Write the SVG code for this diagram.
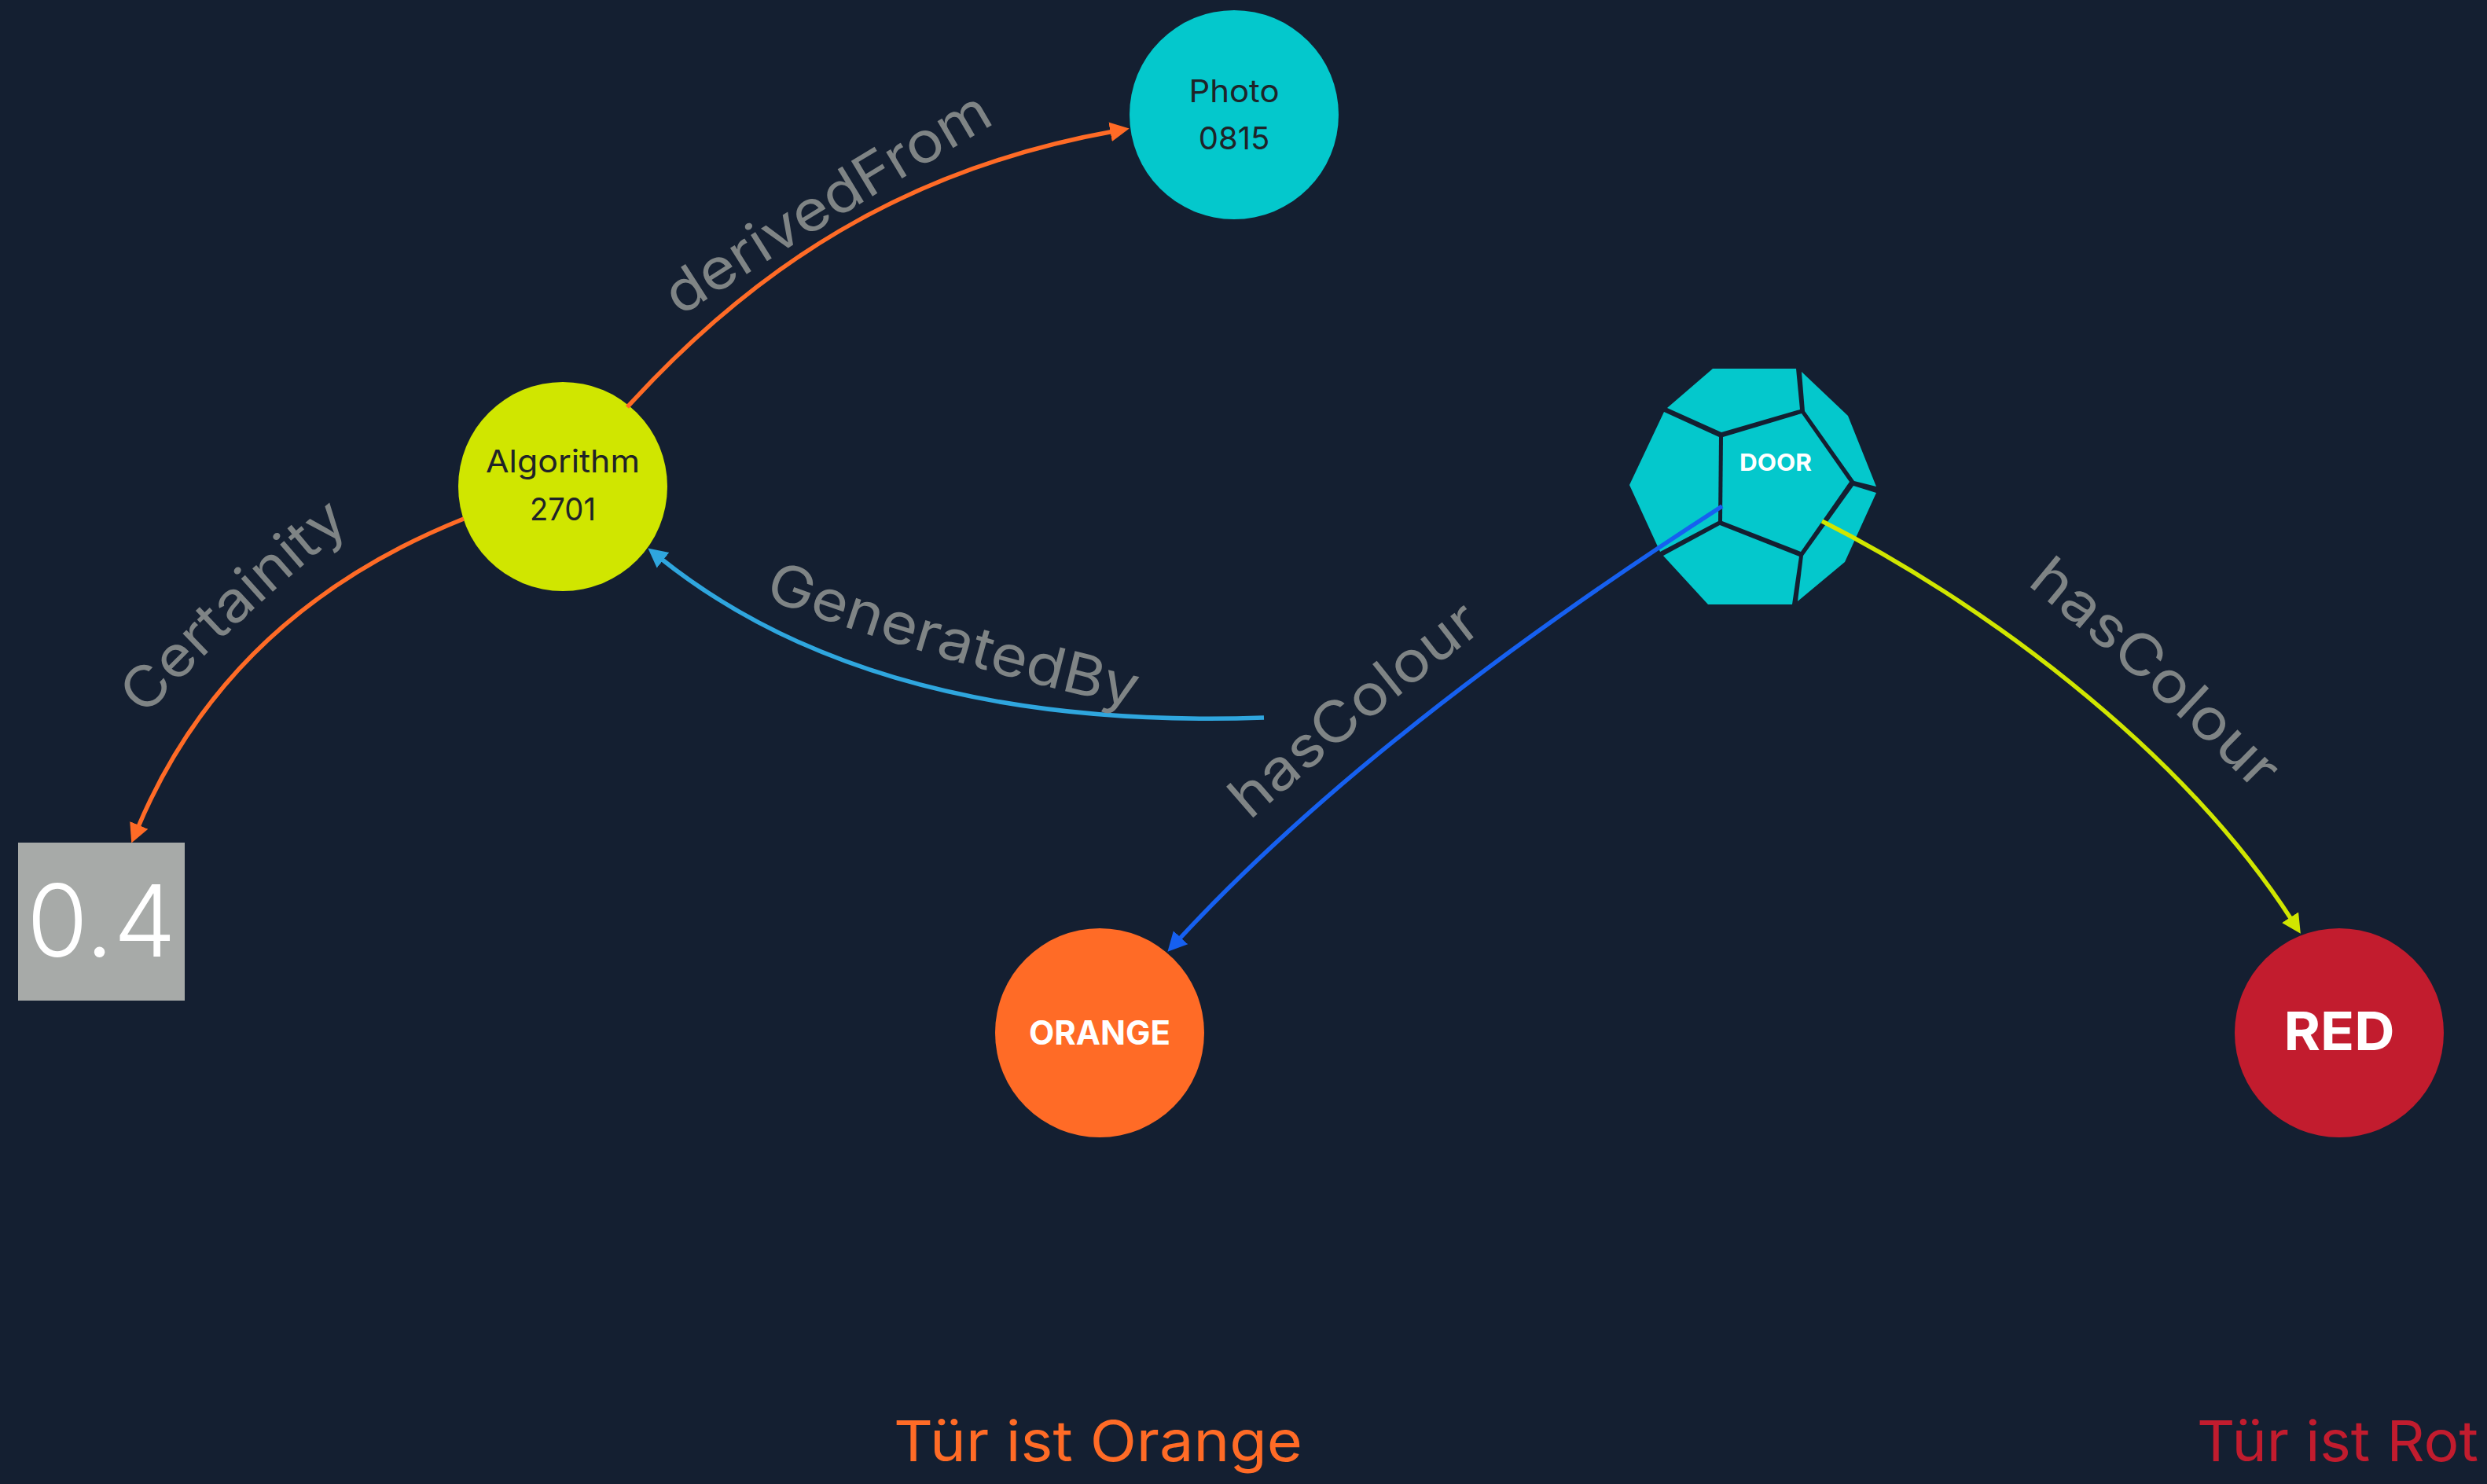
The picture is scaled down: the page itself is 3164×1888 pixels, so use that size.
<svg xmlns="http://www.w3.org/2000/svg" width="3164" height="1888" viewBox="0 0 3164 1888">
<style>
text{font-family:"Inter","Liberation Sans",sans-serif}
.c{fill:none;stroke-width:5.5}
.lb{font-size:72px;fill:#7f8485;font-weight:400}
.n{font-size:40px;fill:#1f2328;text-anchor:middle}
.b{fill:#fff;font-weight:700;text-anchor:middle}
.t{font-size:72px}
.door{fill:#04c8cc}
</style>
<defs>
<marker id="ao" markerUnits="userSpaceOnUse" markerWidth="30" markerHeight="30" refX="4.5" refY="15" orient="auto"><path d="M0 2.5L24.5 15L0 27.5Z" fill="#ff6b26"/></marker>
<marker id="ab" markerUnits="userSpaceOnUse" markerWidth="30" markerHeight="30" refX="4.5" refY="15" orient="auto"><path d="M0 2.5L24.5 15L0 27.5Z" fill="#2fa6de"/></marker>
<marker id="ad" markerUnits="userSpaceOnUse" markerWidth="30" markerHeight="30" refX="4.5" refY="15" orient="auto"><path d="M0 2.5L24.5 15L0 27.5Z" fill="#1660f0"/></marker>
<marker id="ay" markerUnits="userSpaceOnUse" markerWidth="30" markerHeight="30" refX="4.5" refY="15" orient="auto"><path d="M0 2.5L24.5 15L0 27.5Z" fill="#d0e600"/></marker>
<path id="p1" d="M865 403Q1055 280 1264 158L1320 125"/>
<path id="p2" d="M184 912Q297 790 448 667L490 632"/>
<path id="p3" d="M971 761Q1200 845 1438 899L1493 911"/>
<path id="p4" d="M1590 1044Q1720 930 1878 808L1930 768"/>
<path id="p5" d="M2578 743Q2725 862 2855 992L2915 1052"/>
</defs>
<rect width="3164" height="1888" fill="#141f31"/>
<g id="node-photo"><circle cx="1570" cy="146" r="133" fill="#04c8cc"/><text class="n" x="1570" y="130" textLength="115" lengthAdjust="spacingAndGlyphs">Photo</text><text class="n" x="1570" y="190">0815</text></g>
<g id="node-algorithm"><circle cx="716" cy="619" r="133" fill="#d0e600"/><text class="n" x="716" y="601" textLength="196" lengthAdjust="spacingAndGlyphs">Algorithm</text><text class="n" x="716" y="662" textLength="84" lengthAdjust="spacingAndGlyphs">2701</text></g>
<g id="node-door">
<polygon class="door" points="2179,469 2285,469 2290,521 2190,550 2121,519"/>
<polygon class="door" points="2292,473 2351,529 2387,619 2359,612 2296,523"/>
<polygon class="door" points="2117,524 2187,556 2186,663 2112,702 2073,617"/>
<polygon class="door" points="2192,556 2292,526 2353,613 2291,702 2191,663"/>
<polygon class="door" points="2358,618 2387,627 2347,715 2287,765 2294,707"/>
<polygon class="door" points="2116,707 2188,668 2289,708 2280,769 2173,769"/>
<text class="b" x="2259" y="599" font-size="30" textLength="92" lengthAdjust="spacingAndGlyphs">DOOR</text>
</g>
<g id="node-value"><rect x="23" y="1072" width="212" height="201" fill="#a7aaa8"/><text x="129" y="1217" font-size="127" font-weight="300" fill="#fff" text-anchor="middle" textLength="190" lengthAdjust="spacingAndGlyphs">0.4</text></g>
<g id="node-orange"><circle cx="1399" cy="1314" r="133" fill="#ff6b26"/><text class="b" x="1399" y="1329" font-size="42" textLength="180" lengthAdjust="spacingAndGlyphs">ORANGE</text></g>
<g id="node-red"><circle cx="2976" cy="1314" r="133" fill="#c21c2e"/><text class="b" x="2976" y="1336" font-size="68" font-weight="800" textLength="141" lengthAdjust="spacingAndGlyphs">RED</text></g>
<g id="connectors">
<path class="c" stroke="#ff6b26" marker-end="url(#ao)" d="M798 518C960 340 1150 215 1417 167"/>
<path class="c" stroke="#ff6b26" marker-end="url(#ao)" d="M590 660Q290 780 175 1054"/>
<path class="c" stroke="#2fa6de" marker-end="url(#ab)" d="M1608 913Q1115 930 840 710"/>
<path class="c" stroke="#1660f0" marker-end="url(#ad)" d="M2191 644Q1742 933 1499 1196"/>
<path class="c" stroke="#d0e600" marker-end="url(#ay)" d="M2318 663C2510 760 2770 945 2916 1171"/>
</g>
<g id="labels">
<text class="lb"><textPath href="#p1" textLength="472" lengthAdjust="spacingAndGlyphs">derivedFrom</textPath></text>
<text class="lb"><textPath href="#p2" textLength="358" lengthAdjust="spacingAndGlyphs">Certainity</textPath></text>
<text class="lb"><textPath href="#p3" textLength="492" lengthAdjust="spacingAndGlyphs">GeneratedBy</textPath></text>
<text class="lb"><textPath href="#p4" textLength="385" lengthAdjust="spacingAndGlyphs">hasColour</textPath></text>
<text class="lb"><textPath href="#p5" textLength="395" lengthAdjust="spacingAndGlyphs">hasColour</textPath></text>
<text class="t" x="1137" y="1859" fill="#ff6b26" textLength="520" lengthAdjust="spacingAndGlyphs">Tür ist Orange</text>
<text class="t" x="2795" y="1859" fill="#c21c2e" textLength="358" lengthAdjust="spacingAndGlyphs">Tür ist Rot</text>
</g>
</svg>
